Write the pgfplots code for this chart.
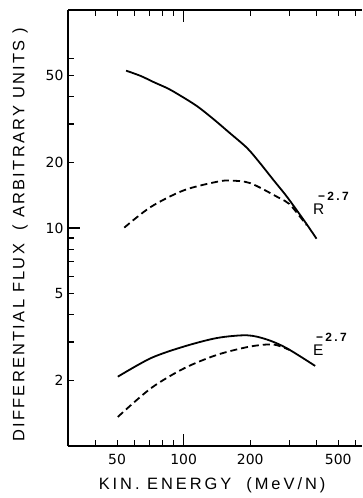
\documentclass[border=0pt]{standalone}
\usepackage{fontspec}
\setmainfont{Liberation Sans}
\newfontfamily\tickfont{DejaVu Sans}
\usepackage{pgfplots}
\pgfplotsset{compat=1.18}
\begin{document}
\begin{tikzpicture}[x=1bp,y=1bp]
\useasboundingbox (-68,-52) rectangle (294,446);
\begin{axis}[
  at={(0,0)}, anchor=south west,
  scale only axis, width=294bp, height=436bp,
  xmode=log, ymode=log,
  xmin=30, xmax=640, ymin=1, ymax=100,
  axis x line=box, axis y line*=left,
  axis line style={line width=1.4bp, black},
  tick align=inside,
  tick style={line width=1.1bp, black},
  major tick length=6bp, minor tick length=6bp,
  xtick={50,100,200,500}, xticklabels={50,100,200,500},
  minor xtick={40,60,70,80,90,300,400,600},
  ytick={2,5,10,20,50}, yticklabels={2,5,10,20,50},
  minor ytick={3,4,6,7,8,9,30,40,60},
  extra x ticks={100}, extra x tick labels={},
  extra y ticks={10}, extra y tick labels={},
  extra x tick style={major tick length=12bp},
  extra y tick style={major tick length=12bp},
  tick label style={font=\tickfont\fontsize{14}{16}\selectfont},
  xticklabel style={yshift=-5bp},
  yticklabel style={xshift=-1bp},
  xlabel={KIN.\ ENERGY\ \ (MeV/N)},
  ylabel={DIFFERENTIAL FLUX \ ( ARBITRARY UNITS )},
  every axis x label/.style={at={(axis description cs:0.49,-0.089)}, anchor=center, font=\fontsize{16.5}{18}\selectfont\addfontfeature{LetterSpace=18}},
  every axis y label/.style={at={(axis description cs:-0.163,0.484)}, rotate=90, anchor=center, font=\fontsize{16.5}{18}\selectfont\addfontfeature{LetterSpace=14}},
]
% upper solid
\addplot[black, line width=1.8bp, smooth] coordinates {
(54.9,52.7) (64,49.8) (73.5,46.6) (85,43.6) (96.9,40.4) (115,36.2) (136.8,31.5) (160,27.5) (193.3,23.3) (220,20.0) (254.6,16.6) (290,14.1) (324.2,12.08) (360,10.4) (398.7,8.93)};
% upper dashed
\addplot[black, line width=1.8bp, smooth, dash pattern=on 7bp off 4bp] coordinates {
(53.9,10.04) (71.1,12.5) (100.3,14.9) (141.7,16.3) (162.6,16.5) (200,16.06) (268,13.8) (300,12.9) (335,11.3) (360,10.3)};
% lower solid
\addplot[black, line width=1.8bp, smooth] coordinates {
(50.4,2.08) (71.1,2.53) (100.3,2.86) (141.7,3.13) (193.3,3.22) (237.8,3.08) (292.4,2.81) (393,2.33)};
% lower dashed
\addplot[black, line width=1.8bp, smooth, dash pattern=on 7bp off 4bp] coordinates {
(50.4,1.36) (71.1,1.84) (100.3,2.27) (141.7,2.62) (200,2.86) (254.6,2.92) (300,2.76)};
\node[anchor=base west, inner sep=0, font=\fontsize{15.5}{16}\selectfont] at (axis cs:384,11.57) {R};
\node[anchor=base west, inner sep=0, font=\fontsize{12}{12}\selectfont\bfseries\addfontfeature{LetterSpace=20}] at (axis cs:404,13.3) {−2.7};
\node[anchor=base west, inner sep=0, font=\fontsize{15.5}{16}\selectfont] at (axis cs:384,2.60) {E};
\node[anchor=base west, inner sep=0, font=\fontsize{12}{12}\selectfont\bfseries\addfontfeature{LetterSpace=20}] at (axis cs:396,3.0) {−2.7};
\end{axis}
\end{tikzpicture}
\end{document}
